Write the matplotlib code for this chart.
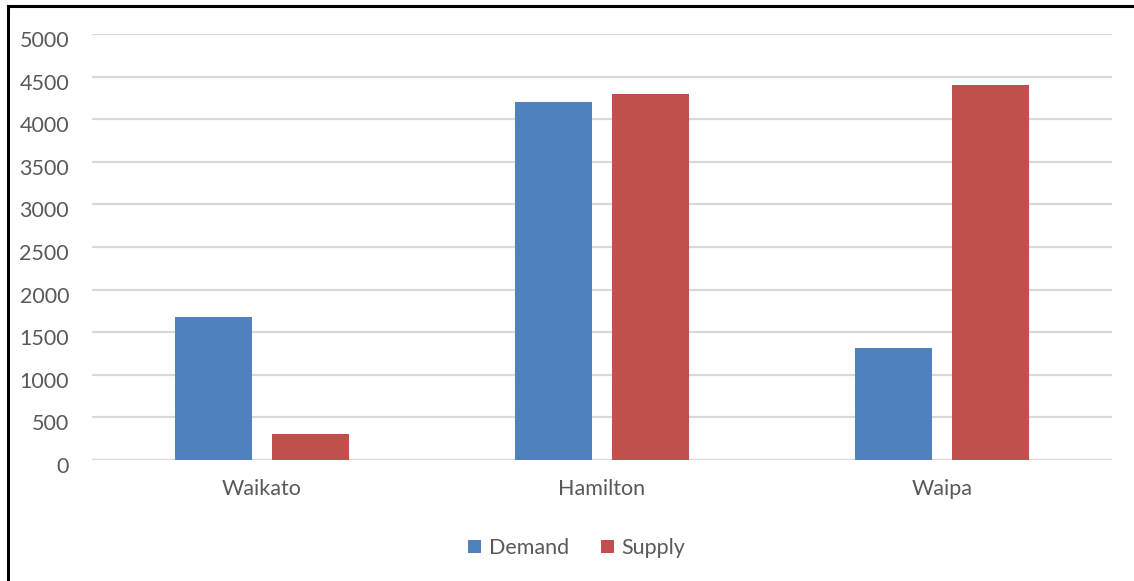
import matplotlib
matplotlib.use("Agg")
import matplotlib.pyplot as plt
import matplotlib.transforms as mtransforms
import numpy as np
from matplotlib.lines import Line2D
from matplotlib.patches import Patch

categories = ["Waikato", "Hamilton", "Waipa"]
demand = [1680, 4200, 1320]
supply = [300, 4300, 4400]
series_names = ["Demand", "Supply"]
yticks = [0, 500, 1000, 1500, 2000, 2500, 3000, 3500, 4000, 4500, 5000]

blue = "#4F81BD"
red = "#C0504D"
text_color = "#595959"
grid_color = "#D9D9D9"

plt.rcParams['font.family'] = ['Lato', 'DejaVu Sans']

W, H = 1134, 581
fig = plt.figure(figsize=(W / 100, H / 100), dpi=100)
ax = fig.add_axes([92 / W, (H - 460) / H, (1112 - 92) / W, (460 - 34) / H])

x = np.arange(len(categories))
bw = 0.2265
off = 0.1426
ax.bar(x - off, demand, width=bw, color=blue, label=series_names[0], zorder=3)
ax.bar(x + off, supply, width=bw, color=red, label=series_names[1], zorder=3)

ax.set_xlim(-0.5, 2.5)
ax.set_ylim(0, 5000)
ax.set_yticks(yticks)
ax.set_yticklabels([str(v) for v in yticks])
ax.set_xticks(x)
ax.set_xticklabels(categories)
fs = 15.5
ax.tick_params(axis='both', length=0, labelsize=fs, colors=text_color)
ax.tick_params(axis='y', pad=16.5)
ax.tick_params(axis='x', pad=14)
shift = mtransforms.ScaledTranslation(0, -5 / 100, fig.dpi_scale_trans)
for lab in ax.get_yticklabels():
    lab.set_horizontalalignment('right')
    lab.set_transform(lab.get_transform() + shift)
ax.yaxis.grid(True, color=grid_color, linewidth=1.6, zorder=0)
for s in ax.spines.values():
    s.set_visible(False)
ax.axhline(0, color=grid_color, linewidth=1.6, zorder=2)

handles = [Patch(facecolor=blue, edgecolor='none'), Patch(facecolor=red, edgecolor='none')]
leg = fig.legend(handles, series_names, loc='center', bbox_to_anchor=(577 / W, 1 - 548 / H),
                 ncol=2, frameon=False, fontsize=fs, handlelength=0.6, handleheight=0.6,
                 handletextpad=0.35, columnspacing=1.5)
for t in leg.get_texts():
    t.set_color(text_color)

# outer frame (top and left edges visible)
fig.add_artist(Line2D([7.5 / W, 1.0], [1 - 6 / H, 1 - 6 / H], color='black', linewidth=2.2,
                      transform=fig.transFigure))
fig.add_artist(Line2D([7.5 / W, 7.5 / W], [0, 1 - 6 / H], color='black', linewidth=2.2,
                      transform=fig.transFigure))

fig.savefig("out.png", dpi=100)
